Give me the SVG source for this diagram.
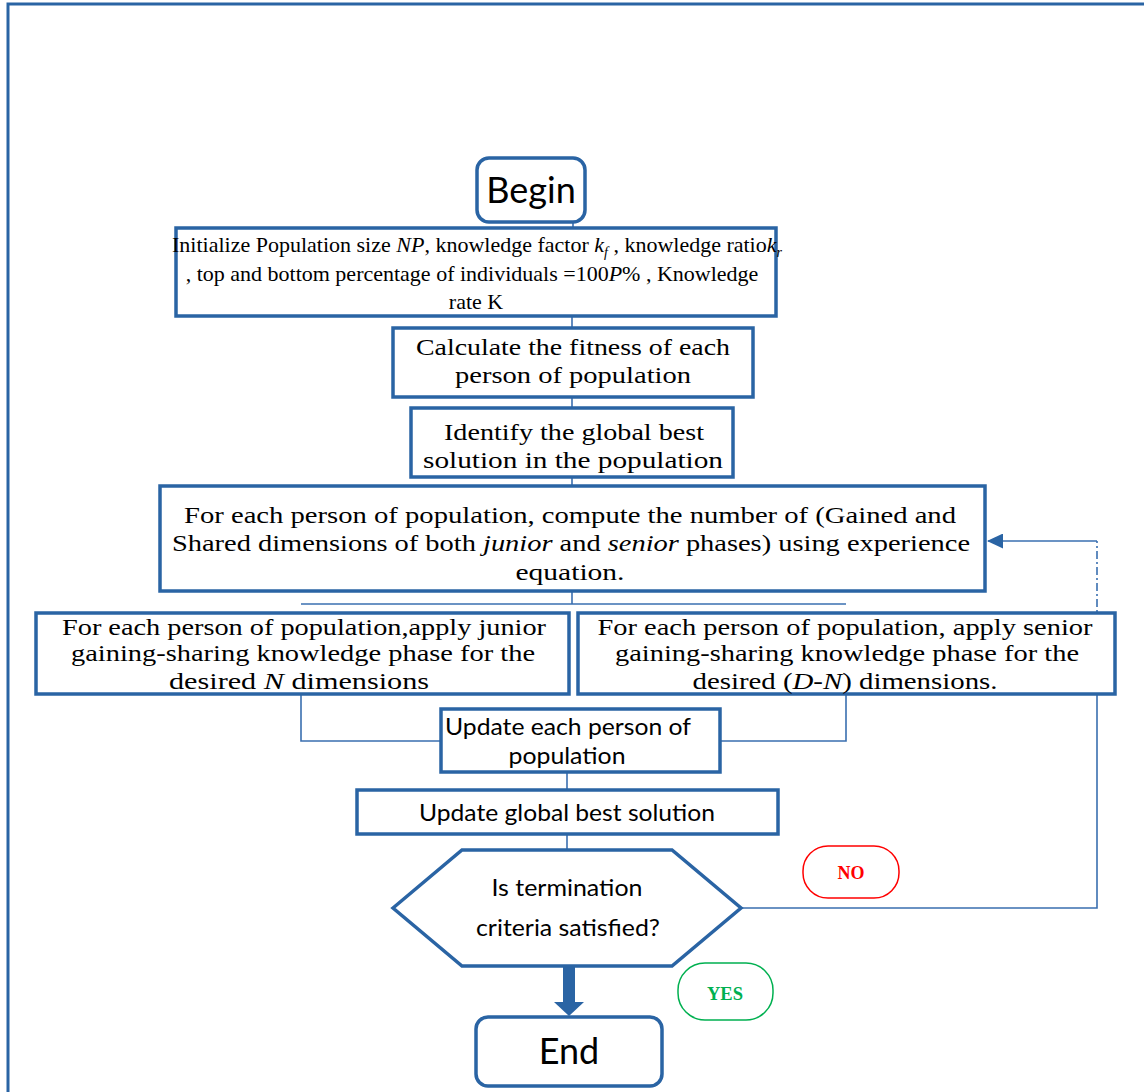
<svg xmlns="http://www.w3.org/2000/svg" width="1144" height="1092" viewBox="0 0 1144 1092">
<style>
.box{fill:#fff;stroke:#2a64a4;stroke-width:3.5}
.rbox{fill:#fff;stroke:#2a64a4;stroke-width:3.5}
.con{fill:none;stroke:#3a6fb0;stroke-width:1.6}
.serif{font-family:"Liberation Serif","DejaVu Serif",serif;font-size:24px;fill:#000;text-anchor:middle}
.init{font-size:22px}
.sans{font-family:"Lato","Liberation Sans",sans-serif;font-size:24px;fill:#000;text-anchor:middle}
.big{font-family:"Lato","Liberation Sans",sans-serif;font-size:36px;fill:#000;text-anchor:middle}
.it{font-style:italic}
.lbl{font-family:"Liberation Serif",serif;font-size:19px;font-weight:bold;text-anchor:middle}
</style>
<defs>
<marker id="ah" markerWidth="16" markerHeight="15" refX="15" refY="7.5" orient="auto" markerUnits="userSpaceOnUse">
<path d="M0,0 L16,7.5 L0,15 Z" fill="#2a64a4"/>
</marker>
</defs>
<rect x="8" y="4" width="1150" height="1100" fill="none" stroke="#2a64a4" stroke-width="3"/>
<g id="connectors">
<line class="con" x1="573" y1="222" x2="573" y2="228"/>
<line class="con" x1="572" y1="316" x2="572" y2="328"/>
<line class="con" x1="572" y1="397" x2="572" y2="408"/>
<line class="con" x1="572" y1="477" x2="572" y2="486"/>
<line class="con" x1="572" y1="591" x2="572" y2="604"/>
<line class="con" x1="301" y1="604" x2="846" y2="604"/>
<polyline class="con" points="301,694 301,741 441,741"/>
<polyline class="con" points="846,694 846,741 720,741"/>
<line class="con" x1="567" y1="772" x2="567" y2="790"/>
<line class="con" x1="567" y1="834" x2="567" y2="850"/>
<polyline class="con" points="741,908 1097,908 1097,703"/>
<line class="con" x1="1097" y1="703" x2="1097" y2="541" stroke-dasharray="8,3,2,3"/>
<line class="con" x1="1097" y1="541" x2="988" y2="541" marker-end="url(#ah)"/>
<rect x="563" y="966" width="12" height="37" fill="#2a64a4"/>
<path d="M554,1002 L584,1002 L569,1016 Z" fill="#2a64a4"/>
</g>
<g id="begin">
<rect class="rbox" x="477" y="158" width="108" height="64" rx="12"/>
<text class="big" x="531" y="203">Begin</text>
</g>
<g id="init">
<rect class="box" x="176" y="228" width="600" height="88"/>
<text class="serif init" x="477" y="252">Initialize Population size <tspan class="it">NP</tspan>, knowledge factor <tspan class="it">k</tspan><tspan class="it" font-size="14" dy="5">f</tspan><tspan dy="-5"> , knowledge ratio</tspan><tspan class="it">k</tspan><tspan class="it" font-size="14" dy="5">r</tspan></text>
<text class="serif init" x="472" y="281">, top and bottom percentage of individuals =100<tspan class="it">P</tspan>% , Knowledge</text>
<text class="serif init" x="476" y="309">rate K</text>
</g>
<g id="calc">
<rect class="box" x="393" y="328" width="360" height="69"/>
<text class="serif" x="573" y="355" textLength="314" lengthAdjust="spacingAndGlyphs">Calculate the fitness of each</text>
<text class="serif" x="573" y="383" textLength="236" lengthAdjust="spacingAndGlyphs">person of population</text>
</g>
<g id="identify">
<rect class="box" x="411" y="408" width="322" height="69"/>
<text class="serif" x="574" y="440" textLength="260" lengthAdjust="spacingAndGlyphs">Identify the global best</text>
<text class="serif" x="573" y="468" textLength="300" lengthAdjust="spacingAndGlyphs">solution in the population</text>
</g>
<g id="foreach">
<rect class="box" x="160" y="486" width="825" height="105"/>
<text class="serif" x="570" y="523" textLength="772" lengthAdjust="spacingAndGlyphs">For each person of population, compute the number of (Gained and</text>
<text class="serif" x="571" y="551" textLength="798" lengthAdjust="spacingAndGlyphs">Shared dimensions of both <tspan class="it">junior</tspan> and <tspan class="it">senior</tspan> phases) using experience</text>
<text class="serif" x="570" y="580" textLength="109" lengthAdjust="spacingAndGlyphs">equation.</text>
</g>
<g id="junior">
<rect class="box" x="36" y="613" width="533" height="81"/>
<text class="serif" x="304" y="635" textLength="484" lengthAdjust="spacingAndGlyphs">For each person of population,apply junior</text>
<text class="serif" x="303" y="661" textLength="464" lengthAdjust="spacingAndGlyphs">gaining-sharing knowledge phase for the</text>
<text class="serif" x="299" y="689" textLength="260" lengthAdjust="spacingAndGlyphs">desired <tspan class="it">N</tspan> dimensions</text>
</g>
<g id="senior">
<rect class="box" x="578" y="613" width="537" height="81"/>
<text class="serif" x="845" y="635" textLength="495" lengthAdjust="spacingAndGlyphs">For each person of population, apply senior</text>
<text class="serif" x="847" y="661" textLength="464" lengthAdjust="spacingAndGlyphs">gaining-sharing knowledge phase for the</text>
<text class="serif" x="845" y="689" textLength="305" lengthAdjust="spacingAndGlyphs">desired (<tspan class="it">D-N</tspan>) dimensions.</text>
</g>
<g id="update">
<rect class="box" x="441" y="709" width="279" height="63"/>
<text class="sans" x="568" y="735" textLength="246" lengthAdjust="spacingAndGlyphs">Update each person of</text>
<text class="sans" x="567" y="764" textLength="117" lengthAdjust="spacingAndGlyphs">population</text>
</g>
<g id="gbest">
<rect class="box" x="357" y="790" width="421" height="44"/>
<text class="sans" x="567" y="821" textLength="296" lengthAdjust="spacingAndGlyphs">Update global best solution</text>
</g>
<g id="decision">
<polygon class="box" points="393,908 462,850 672,850 741,908 672,966 462,966"/>
<text class="sans" x="567" y="896" textLength="151" lengthAdjust="spacingAndGlyphs">Is termination</text>
<text class="sans" x="568" y="936" textLength="184" lengthAdjust="spacingAndGlyphs">criteria satisfied?</text>
</g>
<g id="no">
<rect x="803" y="846" width="96" height="52" rx="25" fill="#fff" stroke="#ff0000" stroke-width="1.5"/>
<text class="lbl" x="851" y="879" fill="#ff0000" textLength="27" lengthAdjust="spacingAndGlyphs">NO</text>
</g>
<g id="yes">
<rect x="678" y="963" width="95" height="57" rx="27" fill="#fff" stroke="#00b050" stroke-width="1.5"/>
<text class="lbl" x="725" y="1000" fill="#00b050" textLength="36" lengthAdjust="spacingAndGlyphs">YES</text>
</g>
<g id="end">
<rect class="rbox" x="476" y="1017" width="186" height="69" rx="12"/>
<text class="big" x="569" y="1064">End</text>
</g>
</svg>
